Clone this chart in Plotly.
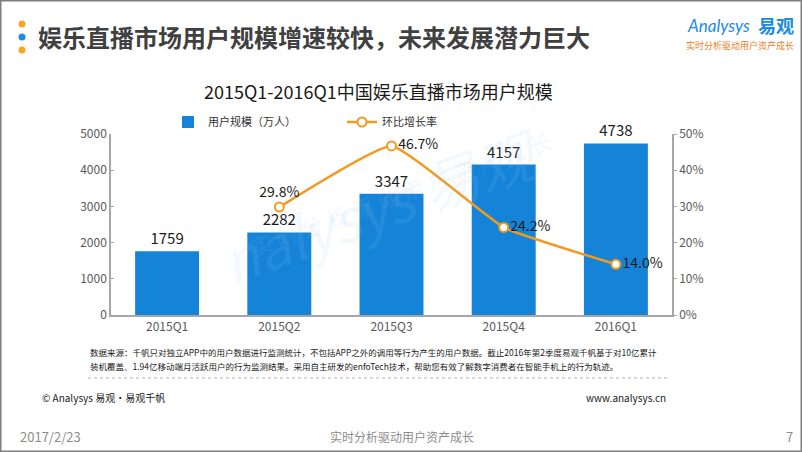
import plotly.graph_objects as go

# ---- data ----
quarters = ["2015Q1", "2015Q2", "2015Q3", "2015Q4", "2016Q1"]
users = [1759, 2282, 3347, 4157, 4738]          # 用户规模（万人）
growth = [None, 29.8, 46.7, 24.2, 14.0]          # 环比增长率 (%)
growth_text = ["", "29.8%", "46.7%", "24.2%", "14.0%"]
growth_pos = ["top center", "top center", "middle right", "middle right", "middle right"]

W, H = 802, 452
L, R, T, B = 111, 672, 134, 315


def px(x):
    return (x - L) / (R - L)


def py(y):
    return (B - y) / (B - T)


CJK = "Noto Sans CJK SC"
fig = go.Figure()

fig.add_trace(go.Bar(
    x=quarters, y=users, name="用户规模（万人）",
    marker=dict(color="#1584d8", line=dict(width=0)),
    width=0.57,
    text=[str(v) for v in users], textposition="outside",
    textfont=dict(size=15, color="#1a1a1a", family=CJK),
    cliponaxis=False,
))

fig.add_trace(go.Scatter(
    x=quarters, y=growth, name="环比增长率", yaxis="y2",
    mode="lines+markers+text",
    line=dict(color="#f39a1e", width=2.5, shape="spline", smoothing=0.35),
    marker=dict(symbol="circle", size=9, color="white",
                line=dict(color="#f39a1e", width=2)),
    text=growth_text, textposition=growth_pos,
    textfont=dict(size=14, color="#1a1a1a", family=CJK),
    cliponaxis=False,
    connectgaps=False,
))

fig.update_layout(
    width=W, height=H,
    margin=dict(l=L, r=W - R, t=T, b=H - B),
    paper_bgcolor="white", plot_bgcolor="white",
    font=dict(family=CJK, color="#595959"),
    showlegend=True,
    legend=dict(orientation="h", x=px(168), xanchor="left", y=py(122), yanchor="middle",
                font=dict(size=11, color="#333333", family=CJK),
                entrywidth=129, entrywidthmode="pixels",
                bgcolor="rgba(0,0,0,0)", itemwidth=30),
    xaxis=dict(showgrid=False, showline=True, linecolor="#a6a6a6", linewidth=1.5,
               ticks="", tickfont=dict(size=12, color="#595959"), fixedrange=True),
    yaxis=dict(range=[0, 5000], dtick=1000, showgrid=False, showline=True,
               linecolor="#a6a6a6", linewidth=1.5, ticks="inside", ticklen=3,
               tickcolor="#a6a6a6", tickfont=dict(size=12, color="#595959"),
               zeroline=False),
    yaxis2=dict(range=[0, 50], dtick=10, ticksuffix="%", overlaying="y", side="right",
                showgrid=False, showline=True, linecolor="#a6a6a6", linewidth=1.5,
                ticks="outside", ticklen=3, tickcolor="#a6a6a6",
                tickfont=dict(size=12, color="#595959"), zeroline=False),
    bargap=0.43,
)

ann = []
# watermark
ann.append(dict(x=px(380), y=py(205), xref="paper", yref="paper", text="<i>nalysys 易观</i>",
                showarrow=False, font=dict(size=58, color="rgba(150,195,235,0.12)", family=CJK),
                textangle=-20))
ann.append(dict(x=px(400), y=py(265), xref="paper", yref="paper",
                text="实 时 分 析 驱 动 用 户 资 产 成 长",
                showarrow=False, font=dict(size=22, color="rgba(150,195,235,0.12)", family=CJK),
                textangle=-20))
# header
ann.append(dict(x=px(36), y=py(37), xref="paper", yref="paper", xanchor="left", yanchor="middle",
                text="<b>娱乐直播市场用户规模增速较快，未来发展潜力巨大</b>", showarrow=False,
                font=dict(size=24, color="#404040", family=CJK)))
# logo
ann.append(dict(x=px(752), y=py(25), xref="paper", yref="paper", xanchor="right", yanchor="middle",
                text="<i>Analysys</i>", showarrow=False,
                font=dict(size=17, color="#1c8be0", family="Lato")))
ann.append(dict(x=px(756), y=py(25), xref="paper", yref="paper", xanchor="left", yanchor="middle",
                text="<b>易观</b>", showarrow=False,
                font=dict(size=18, color="#1c8be0", family=CJK)))
ann.append(dict(x=px(740), y=py(46), xref="paper", yref="paper", xanchor="center", yanchor="middle",
                text="实时分析驱动用户资产成长", showarrow=False,
                font=dict(size=9, color="#e8822a", family=CJK)))
# chart title
ann.append(dict(x=px(378), y=py(91), xref="paper", yref="paper", xanchor="center", yanchor="middle",
                text="2015Q1-2016Q1中国娱乐直播市场用户规模", showarrow=False,
                font=dict(size=18, color="#1a1a1a", family=CJK)))
# source notes
ann.append(dict(x=px(88), y=py(352), xref="paper", yref="paper", xanchor="left", yanchor="middle",
                text="数据来源：千帆只对独立APP中的用户数据进行监测统计，不包括APP之外的调用等行为产生的用户数据。截止2016年第2季度易观千帆基于对10亿累计",
                showarrow=False, font=dict(size=8.5, color="#1a1a1a", family=CJK)))
ann.append(dict(x=px(88), y=py(366), xref="paper", yref="paper", xanchor="left", yanchor="middle",
                text="装机覆盖、1.94亿移动端月活跃用户的行为监测结果。采用自主研发的enfoTech技术，帮助您有效了解数字消费者在智能手机上的行为轨迹。",
                showarrow=False, font=dict(size=8.5, color="#1a1a1a", family=CJK)))
ann.append(dict(x=px(40), y=py(397), xref="paper", yref="paper", xanchor="left", yanchor="middle",
                text="© Analysys 易观·易观千帆", showarrow=False,
                font=dict(size=10, color="#1a1a1a", family=CJK)))
ann.append(dict(x=px(668), y=py(397), xref="paper", yref="paper", xanchor="right", yanchor="middle",
                text="www.analysys.cn", showarrow=False,
                font=dict(size=10, color="#1a1a1a", family=CJK)))
# page footer
ann.append(dict(x=px(18), y=py(436), xref="paper", yref="paper", xanchor="left", yanchor="middle",
                text="2017/2/23", showarrow=False,
                font=dict(size=13, color="#8c8c8c", family=CJK)))
ann.append(dict(x=px(402), y=py(436), xref="paper", yref="paper", xanchor="center", yanchor="middle",
                text="实时分析驱动用户资产成长", showarrow=False,
                font=dict(size=12, color="#8c8c8c", family=CJK)))
ann.append(dict(x=px(789), y=py(436), xref="paper", yref="paper", xanchor="center", yanchor="middle",
                text="7", showarrow=False,
                font=dict(size=13, color="#8c8c8c", family=CJK)))
fig.update_layout(annotations=ann)

shapes = []
# header dots
for cy, col in [(24, "#f5a623"), (37, "#1c8be0"), (50, "#f5a623")]:
    shapes.append(dict(type="circle", xref="paper", yref="paper",
                       x0=px(18.5), x1=px(25.5), y0=py(cy + 3.5), y1=py(cy - 3.5),
                       fillcolor=col, line=dict(width=0)))
# dotted separator
shapes.append(dict(type="line", xref="paper", yref="paper", x0=px(88), x1=px(668),
                   y0=py(378), y1=py(378), line=dict(color="#b0b0b0", width=1, dash="dot")))
# frame
shapes.append(dict(type="rect", xref="paper", yref="paper", x0=px(0.75), x1=px(801.25), y0=py(0.75), y1=py(451.25),
                   line=dict(color="#7f7f7f", width=1.5), fillcolor="rgba(0,0,0,0)"))
fig.update_layout(shapes=shapes)

fig.write_html("out.html", config={"displayModeBar": False},
               post_script="document.body.style.margin='0';document.body.style.overflow='hidden';")
